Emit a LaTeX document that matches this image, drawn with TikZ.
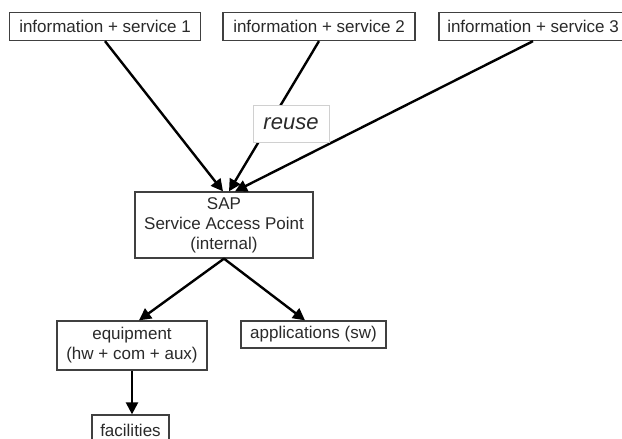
\documentclass[tikz,border=0pt]{standalone}
\usepackage{fontspec}
\setmainfont{Liberation Sans}
\usetikzlibrary{arrows.meta}
\definecolor{boxline}{HTML}{404040}
\definecolor{boxtext}{HTML}{2A2A2A}
\definecolor{lightline}{HTML}{D0D0D0}
\begin{document}
\begin{tikzpicture}[x=1pt,y=-1pt,
  box/.style={draw=boxline, line width=1.3pt, fill=white, text=boxtext,
    inner sep=0pt, align=center, font=\fontsize{17}{20}\selectfont},
  flow/.style={line width=2.4pt, -{Triangle[length=12pt,width=12pt]}},
  tag/.style={draw=lightline, line width=0.8pt, fill=white, text=boxtext,
    inner sep=0pt, font=\fontsize{22}{26}\selectfont\itshape}]
\useasboundingbox (0,0) rectangle (622,439);

% top row: information + service sources
\node[box, minimum width=191pt, minimum height=28pt] (s1) at (105,26.5) {information + service 1};
\node[box, minimum width=192pt, minimum height=28pt] (s2) at (319,26.5) {information + service 2};
\node[box, minimum width=188pt, minimum height=28pt] (s3) at (533,26.5) {information + service 3};

% central access point
\node[box, minimum width=178pt, minimum height=66pt] (sap) at (224,225)
  {SAP\\Service Access Point\\(internal)};

% lower layers
\node[box, minimum width=150pt, minimum height=49pt] (eq) at (132,345.5)
  {equipment\\(hw + com + aux)};
\node[box, minimum width=145pt, minimum height=27pt] (app) at (313.5,334.5)
  {applications (sw)};
\node[box, minimum width=77pt, minimum height=30pt] (fac) at (130.5,430)
  {facilities};

% connectors into the access point
\draw[flow] (s1.south) -- ([xshift=-1pt]sap.north);
\draw[flow] (s2.south) -- ([xshift=5pt]sap.north);
\draw[flow] (s3.south) -- ([xshift=11pt]sap.north);

% connectors out of the access point
\draw[flow] (sap.south) -- ([xshift=7pt]eq.north);
\draw[flow] (sap.south) -- ([xshift=-8.5pt]app.north);
\draw[flow] (eq.south) -- (eq.south |- fac.north);

% label laid over the second connector
\node[tag, minimum width=76pt, minimum height=37pt] (reuse) at (291,123.5) {reuse};
\end{tikzpicture}
\end{document}
